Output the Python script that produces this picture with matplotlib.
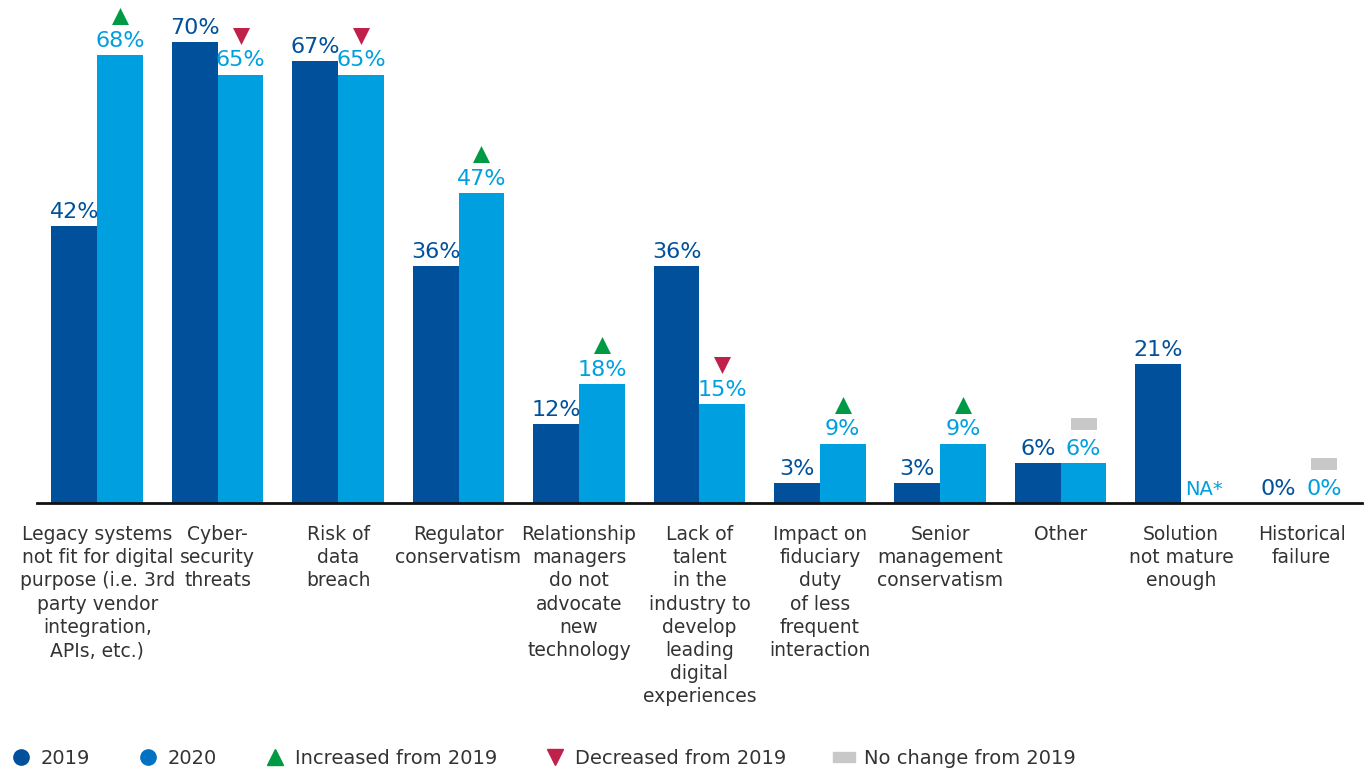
"""Barriers to digital adoption, 2019 vs 2020 grouped bars."""

import matplotlib

matplotlib.use("Agg")

import matplotlib.pyplot as plt
import numpy as np
from matplotlib.lines import Line2D
from matplotlib.path import Path
from matplotlib.transforms import offset_copy

DARK_BLUE = "#00509B"
LIGHT_BLUE = "#009FDF"
LEG_2020 = "#0072C3"
GREEN = "#009A44"
RED = "#C0214B"
GREY = "#C8C8C8"
TEXT = "#333333"

categories = [
    "Legacy systems\nnot fit for digital\npurpose (i.e. 3rd\nparty vendor\nintegration,\nAPIs, etc.)",
    "Cyber-\nsecurity\nthreats",
    "Risk of\ndata\nbreach",
    "Regulator\nconservatism",
    "Relationship\nmanagers\ndo not\nadvocate\nnew\ntechnology",
    "Lack of\ntalent\nin the\nindustry to\ndevelop\nleading\ndigital\nexperiences",
    "Impact on\nfiduciary\nduty\nof less\nfrequent\ninteraction",
    "Senior\nmanagement\nconservatism",
    "Other",
    "Solution\nnot mature\nenough",
    "Historical\nfailure",
]
values_2019 = [42, 70, 67, 36, 12, 36, 3, 3, 6, 21, 0]
values_2020 = [68, 65, 65, 47, 18, 15, 9, 9, 6, None, 0]
change = ["up", "down", "down", "up", "up", "down", "up", "up", "same", None, "same"]

RECT = Path([(-1, -0.44), (1, -0.44), (1, 0.44), (-1, 0.44), (-1, -0.44)],
            [Path.MOVETO, Path.LINETO, Path.LINETO, Path.LINETO, Path.CLOSEPOLY])
MARKERS = {"up": ("^", GREEN, 150), "down": ("v", RED, 150), "same": (RECT, GREY, 330)}

plt.rcParams["font.family"] = ["DejaVu Sans"]

fig = plt.figure(figsize=(13.7, 7.7), dpi=100)
ax = fig.add_axes([0.027, 0.347, 0.967, 0.6416])

x = np.arange(len(categories))
w = 0.38
h20 = [v if v is not None else 0 for v in values_2020]
ax.bar(x - w / 2, values_2019, width=w, color=DARK_BLUE)
ax.bar(x + w / 2, h20, width=w, color=LIGHT_BLUE)

marker_trans = offset_copy(ax.transData, fig=fig, y=28, units="points")
for i, (a, b) in enumerate(zip(values_2019, values_2020)):
    ax.annotate(f"{a}%", (x[i] - w / 2, a), xytext=(0, 3), textcoords="offset points",
                ha="center", va="bottom", fontsize=16, color=DARK_BLUE)
    label = "NA*" if b is None else f"{b}%"
    ax.annotate(label, (x[i] + w / 2, 0 if b is None else b), xytext=(0, 3),
                textcoords="offset points", ha="center", va="bottom",
                fontsize=16 if b is not None else 14, color=LIGHT_BLUE)
    if change[i] is not None:
        marker, color, size = MARKERS[change[i]]
        ax.scatter([x[i] + w / 2], [h20[i]], marker=marker, s=size, color=color,
                   transform=marker_trans, linewidths=0, clip_on=False)

ax.set_xlim(-0.5, 10.5)
ax.set_ylim(0, 75)
ax.set_xticks(x)
ax.set_xticklabels(categories, fontsize=13.5, color=TEXT, linespacing=1.28)
ax.tick_params(axis="x", length=0, pad=16)
ax.set_yticks([])
for side in ["top", "right", "left"]:
    ax.spines[side].set_visible(False)
ax.spines["bottom"].set_linewidth(2)
ax.spines["bottom"].set_color("#111111")

handles = [
    Line2D([], [], marker="o", ls="", color=DARK_BLUE, markersize=11),
    Line2D([], [], marker="o", ls="", color=LEG_2020, markersize=11),
    Line2D([], [], marker="^", ls="", color=GREEN, markersize=12),
    Line2D([], [], marker="v", ls="", color=RED, markersize=12),
    Line2D([], [], marker=RECT, ls="", color=GREY, markersize=16),
]
labels = ["2019", "2020", "Increased from 2019", "Decreased from 2019", "No change from 2019"]
fig.legend(handles, labels, loc="lower left", bbox_to_anchor=(-0.006, -0.02), ncol=5,
           frameon=False, fontsize=14, handletextpad=0.4, columnspacing=2.4,
           handlelength=1.2, labelcolor=TEXT)

fig.savefig("out.png", dpi=100, facecolor="white")
